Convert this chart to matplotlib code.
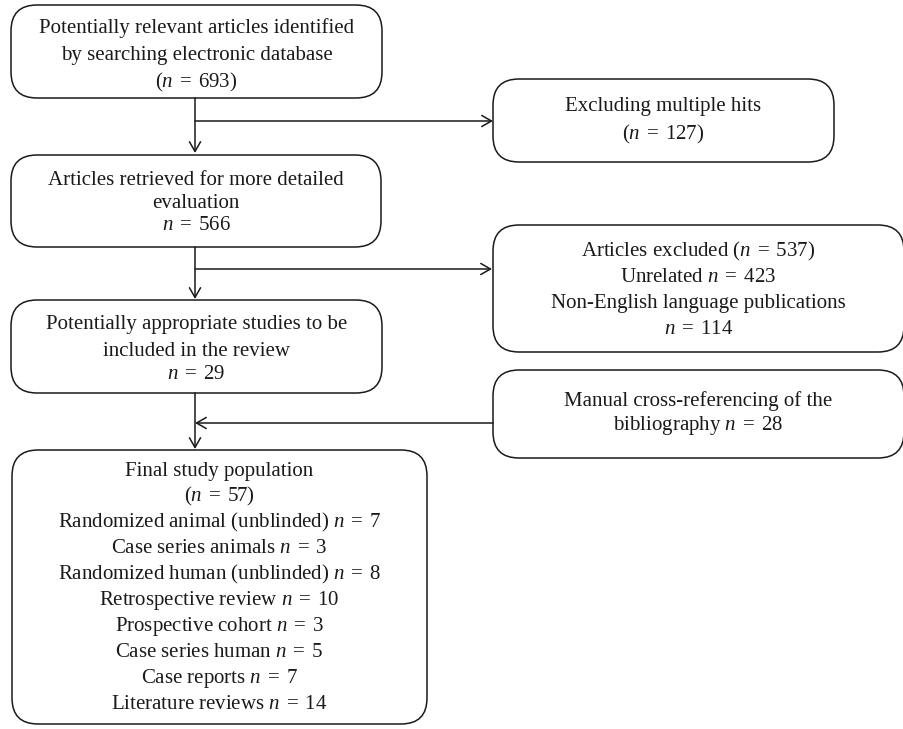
import matplotlib
matplotlib.use("Agg")
import matplotlib.pyplot as plt
from matplotlib.patches import FancyBboxPatch, FancyArrowPatch

plt.rcParams['font.family'] = 'Liberation Serif'
plt.rcParams['mathtext.fontset'] = 'custom'
plt.rcParams['mathtext.rm'] = 'Liberation Serif'
plt.rcParams['mathtext.it'] = 'Liberation Serif:italic'

# counts
n_identified = 693
n_multiple_hits = 127
n_retrieved = 566
n_excluded = 537
n_unrelated = 423
n_non_english = 114
n_appropriate = 29
n_cross_ref = 28
n_final = 57

study_types = ["Randomized animal (unblinded)", "Case series animals",
               "Randomized human (unblinded)", "Retrospective review",
               "Prospective cohort", "Case series human", "Case reports",
               "Literature reviews"]
study_counts = [7, 3, 8, 10, 3, 5, 7, 14]

N = "$n$\u2004=\u2004"

# box: (x0, y0, x1, y1), lines, line y positions (pixels from top)
boxes = [
    ((11, 5, 382, 98),
     ["Potentially relevant articles identified", "by searching electronic database",
      "(" + N + str(n_identified) + ")"],
     [28, 55, 82]),
    ((493, 79, 834, 162),
     ["Excluding multiple hits", "(" + N + str(n_multiple_hits) + ")"],
     [106, 134]),
    ((11, 155, 381, 247),
     ["Articles retrieved for more detailed", "evaluation", N + str(n_retrieved)],
     [180, 203, 225]),
    ((493, 225, 904, 352),
     ["Articles excluded (" + N + str(n_excluded) + ")", "Unrelated " + N + str(n_unrelated),
      "Non-English language publications", N + str(n_non_english)],
     [251, 277, 303, 329]),
    ((11, 300, 382, 393),
     ["Potentially appropriate studies to be", "included in the review", N + str(n_appropriate)],
     [324, 351, 374]),
    ((493, 370, 904, 458),
     ["Manual cross-referencing of the", "bibliography " + N + str(n_cross_ref)],
     [401, 425]),
    ((12, 450, 427, 724),
     ["Final study population", "(" + N + str(n_final) + ")"]
     + [t + " " + N + str(c) for t, c in zip(study_types, study_counts)],
     [471 + 25.9 * i for i in range(10)]),
]

fig = plt.figure(figsize=(9.04, 7.29), dpi=100)
ax = fig.add_axes([0, 0, 1, 1])
ax.set_xlim(0, 904)
ax.set_ylim(729, 0)
ax.axis('off')

for (x0, y0, x1, y1), lines, ys in boxes:
    ax.add_patch(FancyBboxPatch((x0, y0), x1 - x0, y1 - y0,
                                boxstyle="round,pad=0,rounding_size=26",
                                fc='white', ec='#1a1a1a', lw=1.1))
    cx = (x0 + x1) / 2
    for line, y in zip(lines, ys):
        ax.text(cx, y, line, ha='center', va='center', fontsize=15, color='#1a1a1a')

vx = 195
def arrow(p0, p1):
    ax.add_patch(FancyArrowPatch(p0, p1, arrowstyle="->,head_length=7,head_width=4",
                                 mutation_scale=1, lw=1.1, color='#1a1a1a',
                                 shrinkA=0, shrinkB=0))

arrow((vx, 98), (vx, 153))
arrow((vx, 121), (493, 121))
arrow((vx, 247), (vx, 299))
arrow((vx, 269), (492, 269))
arrow((vx, 393), (vx, 449))
arrow((493, 423), (vx, 423))

fig.savefig("out.png", dpi=100)
